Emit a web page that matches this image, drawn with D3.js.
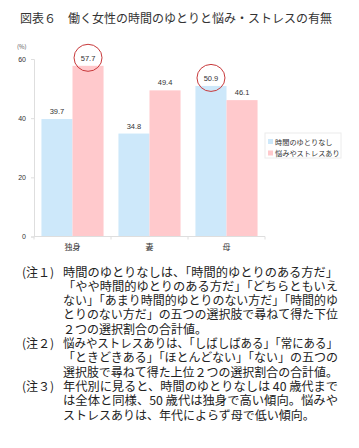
<!DOCTYPE html>
<html>
<head>
<meta charset="utf-8">
<script src="https://cdn.jsdelivr.net/npm/d3@7"></script>
<style>
  html, body { margin: 0; padding: 0; background: #fff; }
  svg text { font-family: "Noto Sans CJK JP", "Noto Sans", sans-serif; }
</style>
</head>
<body>
<div id="chart"></div>
<script>
// chart data
var categories = ["独身", "妻", "母"];
var seriesNames = ["時間のゆとりなし", "悩みやストレスあり"];
var noTimeValues = [39.7, 34.8, 50.9];
var stressValues = [57.7, 49.4, 46.1];
var yTicks = [0, 20, 40, 60];
// circled labels: [series index, category index]
var circled = [[1, 0], [0, 2]];

var title = "図表６　働く女性の時間のゆとりと悩み・ストレスの有無";
var noteLabels = ["(注１)", "(注２)", "(注３)"];
var noteLines = [
  ["時間のゆとりなしは、「時間的ゆとりのある方だ」",
   "「やや時間的ゆとりのある方だ」「どちらともいえ",
   "ない」「あまり時間的ゆとりのない方だ」「時間的ゆ",
   "とりのない方だ」の五つの選択肢で尋ねて得た下位",
   "２つの選択割合の合計値。"],
  ["悩みやストレスありは、「しばしばある」「常にある」",
   "「ときどきある」「ほとんどない」「ない」の五つの",
   "選択肢で尋ねて得た上位２つの選択割合の合計値。"],
  ["年代別に見ると、時間のゆとりなしは 40 歳代まで",
   "は全体と同様、50 歳代は独身で高い傾向。悩みや",
   "ストレスありは、年代によらず母で低い傾向。"]
];

(function() {
  var W = 359, H = 448;
  var colors = ["#cde8fa", "#ffc9cc"];
  var series = [noTimeValues, stressValues];

  var svg = d3.select("#chart").append("svg")
    .attr("width", W)
    .attr("height", H);

  /* title */
  svg.append("text")
    .attr("x", 20).attr("y", 23)
    .style("font-size", "12px")
    .style("fill", "#333")
    .text(title);

  /* scales */
  var x = d3.scaleBand().domain(categories).range([34, 265]);
  var xs = d3.scaleBand().domain(d3.range(series.length))
    .range([0, x.bandwidth()]).paddingInner(0).paddingOuter(0.24);
  var y = d3.scaleLinear().domain([0, 60]).range([236.5, 59]);

  /* y axis */
  var yAxis = svg.append("g")
    .attr("transform", "translate(34,0)")
    .call(d3.axisLeft(y).tickValues(yTicks).tickSize(3).tickPadding(5));
  yAxis.selectAll("line, path").attr("stroke", "#dedede");
  yAxis.selectAll("text").style("font-size", "7px").style("fill", "#333")
    .style("font-family", "\"Liberation Sans\", sans-serif");

  svg.append("text")
    .attr("x", 17).attr("y", 49)
    .style("font-size", "6px").style("fill", "#555")
    .text("(%)");

  /* bars */
  var groups = svg.selectAll("g.cat").data(categories).enter().append("g")
    .attr("class", "cat")
    .attr("transform", function(d) { return "translate(" + x(d) + ",0)"; });

  groups.selectAll("rect").data(function(d, i) {
    return series.map(function(s, k) { return {k: k, v: s[i]}; });
  }).enter().append("rect")
    .attr("x", function(d) { return xs(d.k); })
    .attr("width", xs.bandwidth())
    .attr("y", function(d) { return y(d.v); })
    .attr("height", function(d) { return y(0) - y(d.v); })
    .style("fill", function(d) { return colors[d.k]; });

  groups.selectAll("text.val").data(function(d, i) {
    return series.map(function(s, k) { return {k: k, v: s[i]}; });
  }).enter().append("text")
    .attr("class", "val")
    .attr("x", function(d) { return xs(d.k) + xs.bandwidth() / 2; })
    .attr("y", function(d) { return y(d.v) - 5; })
    .attr("text-anchor", "middle")
    .style("font-size", "7.5px").style("fill", "#333")
    .style("font-family", "\"Liberation Sans\", sans-serif")
    .text(function(d) { return d.v.toFixed(1); });

  /* red circles around highlighted labels */
  circled.forEach(function(c) {
    var v = series[c[0]][c[1]];
    svg.append("ellipse")
      .attr("cx", x(categories[c[1]]) + xs(c[0]) + xs.bandwidth() / 2)
      .attr("cy", y(v) - 8)
      .attr("rx", 14).attr("ry", 13.5)
      .style("fill", "none")
      .style("stroke", "#c8393b")
      .style("stroke-width", 1);
  });

  /* x axis */
  svg.append("line")
    .attr("x1", 34).attr("x2", 265)
    .attr("y1", y(0)).attr("y2", y(0))
    .attr("stroke", "#dedede");
  var bounds = categories.map(function(c) { return x(c); }).concat([x.range()[1]]);
  svg.selectAll("line.xt").data(bounds).enter().append("line")
    .attr("class", "xt")
    .attr("x1", function(d) { return d; }).attr("x2", function(d) { return d; })
    .attr("y1", y(0)).attr("y2", y(0) + 3)
    .attr("stroke", "#dedede");
  svg.selectAll("text.cat").data(categories).enter().append("text")
    .attr("class", "cat")
    .attr("x", function(d) { return x(d) + x.bandwidth() / 2; })
    .attr("y", 250)
    .attr("text-anchor", "middle")
    .style("font-size", "8px").style("fill", "#333")
    .text(function(d) { return d; });

  /* legend */
  var legend = svg.append("g").attr("transform", "translate(265,133)");
  legend.append("rect")
    .attr("width", 76).attr("height", 25)
    .style("fill", "#fff").style("stroke", "#ececec");
  seriesNames.forEach(function(n, k) {
    legend.append("rect")
      .attr("x", 3).attr("y", 6 + k * 11.5)
      .attr("width", 5).attr("height", 5)
      .style("fill", colors[k]);
    legend.append("text")
      .attr("x", 10).attr("y", 11.5 + k * 11.5)
      .style("font-size", "7.2px").style("fill", "#333")
      .text(n);
  });

  /* notes: full lines are justified to the right edge */
  var lineY = 276.5, textLeft = 63, textRight = 338;
  noteLines.forEach(function(lines, i) {
    svg.append("text")
      .attr("x", 22).attr("y", lineY)
      .style("font-size", "12px").style("fill", "#222")
      .text(noteLabels[i]);
    lines.forEach(function(t, j) {
      var line = svg.append("text")
        .attr("x", textLeft).attr("y", lineY)
        .style("font-size", "12px").style("fill", "#222")
        .text(t);
      if (j < lines.length - 1 || i === 1) {
        line.attr("textLength", textRight - textLeft)
          .attr("lengthAdjust", "spacingAndGlyphs");
      }
      lineY += 14.3;
    });
  });
})();
</script>
</body>
</html>
